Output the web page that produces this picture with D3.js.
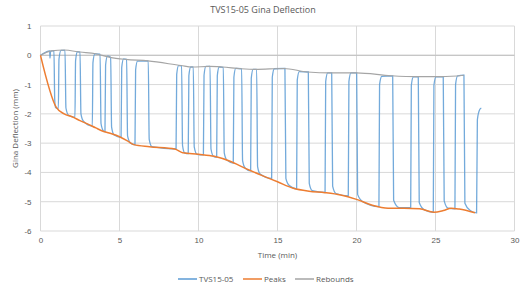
<!DOCTYPE html>
<html>
<head>
<meta charset="utf-8">
<script src="https://cdn.jsdelivr.net/npm/d3@7"></script>
<style>
  body { margin: 0; background: #fff; }
  svg { display: block; font-family: "Open Sans", "Liberation Sans", sans-serif; }
  .grid line { stroke: #d9d9d9; stroke-width: 1; }
  .tick text { fill: #595959; font-size: 8px; }
</style>
</head>
<body>
<div class="container"></div>
<script>
const WIDTH = 526;
const HEIGHT = 289;
const LEFT = 40.5, RIGHT = 514.5, TOP = 26, BOTTOM = 231;

// TVS15-05 measured deflection (min, mm)
var tvsTime = [0, 0.25, 0.5, 0.58, 0.6, 0.64, 0.85, 0.9, 0.95, 1.13,
  1.17, 1.3, 1.55, 1.61, 1.78, 2.18,
  2.22, 2.34, 2.5, 2.56, 2.72, 3.28,
  3.32, 3.44, 3.77, 3.83, 3.98, 4.08,
  4.12, 4.24, 4.44, 4.5, 4.66, 5.1,
  5.14, 5.26, 5.45, 5.51, 5.7, 5.98,
  6.02, 6.14, 6.82, 6.88, 7.05, 8.58,
  8.62, 8.74, 8.93, 8.99, 9.12, 9.35,
  9.39, 9.51, 9.67, 9.73, 9.9, 10.31,
  10.35, 10.47, 10.73, 10.79, 10.95, 11.15,
  11.19, 11.31, 11.57, 11.63, 11.8, 12.2,
  12.24, 12.36, 12.73, 12.79, 12.95, 13.3,
  13.34, 13.46, 13.68, 13.74, 13.9, 14.63,
  14.67, 14.8, 15.47, 15.53, 15.75, 16.21,
  16.25, 16.38, 16.95, 17.01, 17.2, 18.01,
  18.05, 18.18, 18.43, 18.49, 18.7, 19.48,
  19.52, 19.65, 20.01, 20.07, 20.4, 21.42,
  21.46, 21.6, 22.29, 22.35, 22.7, 23.43,
  23.47, 23.6, 23.91, 23.97, 24.3, 24.86,
  24.9, 25.03, 25.49, 25.55, 25.8, 26.23,
  26.27, 26.4, 26.8, 26.86, 27.2, 27.6,
  27.65, 27.8, 27.9];
var tvsMm = [0, 0.08, 0.14, 0.15, -0.1, 0.14, 0.16, -1.5, -1.78, -1.82,
  -0.13, 0.17, 0.17, -1.8, -2.05, -2.12,
  -0.18, 0.12, 0.11, -2.0, -2.25, -2.42,
  -0.25, 0.05, 0.04, -2.33, -2.58, -2.61,
  -0.33, -0.03, -0.07, -2.45, -2.72, -2.8,
  -0.42, -0.12, -0.14, -2.75, -3.0, -3.05,
  -0.5, -0.2, -0.19, -2.87, -3.12, -3.2,
  -0.65, -0.35, -0.36, -3.08, -3.33, -3.36,
  -0.7, -0.4, -0.4, -3.13, -3.38, -3.4,
  -0.68, -0.38, -0.38, -3.2, -3.45, -3.48,
  -0.7, -0.4, -0.41, -3.33, -3.58, -3.68,
  -0.75, -0.45, -0.46, -3.6, -3.85, -3.95,
  -0.78, -0.48, -0.48, -3.8, -4.05, -4.2,
  -0.75, -0.46, -0.45, -4.2, -4.45, -4.56,
  -0.85, -0.56, -0.57, -4.37, -4.62, -4.68,
  -0.9, -0.6, -0.6, -4.47, -4.72, -4.8,
  -0.9, -0.6, -0.6, -4.75, -5.0, -5.17,
  -1.0, -0.72, -0.7, -4.95, -5.2, -5.2,
  -1.03, -0.74, -0.73, -5.03, -5.28, -5.36,
  -1.03, -0.74, -0.73, -4.97, -5.22, -5.24,
  -1.0, -0.7, -0.68, -5.05, -5.3, -5.38,
  -2.2, -1.85, -1.8];

var peakTime = [0, 1.0, 1.5, 2.0, 2.5, 3.0, 3.5, 4.0, 4.5, 5.0, 5.5, 5.9, 6.9, 8.5, 9.0, 10.0,
  11.0, 12.0, 13.0, 14.0, 15.0, 16.0, 17.0, 18.0, 19.0, 20.0, 21.0, 22.0, 23.0, 24.0,
  24.9, 25.5, 26.0, 26.5, 27.5];
var peakMm = [0, -1.78, -2.0, -2.1, -2.23, -2.35, -2.48, -2.6, -2.68, -2.78, -2.92, -3.05, -3.12, -3.2, -3.33, -3.38,
  -3.45, -3.62, -3.87, -4.1, -4.32, -4.54, -4.64, -4.69, -4.77, -4.92, -5.12, -5.22, -5.22, -5.24,
  -5.36, -5.3, -5.22, -5.25, -5.38];

var reboundTime = [0, 0.7, 1.5, 2.5, 3.5, 4.4, 5.4, 6.8, 8.9, 9.6, 10.7, 11.5, 12.7, 13.6,
  15.4, 16.9, 18.4, 20.0, 22.2, 23.9, 25.4, 26.8];
var reboundMm = [0, 0.15, 0.18, 0.11, 0.05, -0.07, -0.14, -0.19, -0.35, -0.4, -0.38, -0.4, -0.46, -0.48,
  -0.45, -0.57, -0.6, -0.6, -0.7, -0.73, -0.73, -0.68];

var xTicks = [0, 5, 10, 15, 20, 25, 30];
var yTicks = [1, 0, -1, -2, -3, -4, -5, -6];

var seriesNames = ["TVS15-05", "Peaks", "Rebounds"];
var seriesColors = ["#5B9BD5", "#ED7D31", "#A5A5A5"];

var zip = function(a, b){
  return a.map(function(d, i){ return [d, b[i]]; });
};
var plain = function(d){ return String(d); };

var svg = d3.select('.container').append('svg')
  .attr('width', WIDTH)
  .attr('height', HEIGHT);

var x = d3.scaleLinear().domain([0, 30]).range([LEFT, RIGHT]);
var y = d3.scaleLinear().domain([-6, 1]).range([BOTTOM, TOP]);

// horizontal gridlines
svg.append('g').attr('class', 'grid')
  .selectAll('line').data(yTicks).enter().append('line')
  .attr('x1', LEFT).attr('x2', RIGHT)
  .attr('y1', function(d){ return y(d); })
  .attr('y2', function(d){ return y(d); });

// vertical gridlines
svg.append('g').attr('class', 'grid')
  .selectAll('line').data(xTicks).enter().append('line')
  .attr('y1', TOP).attr('y2', BOTTOM)
  .attr('x1', function(d){ return x(d); })
  .attr('x2', function(d){ return x(d); });

// x axis line at zero
svg.append('line')
  .attr('x1', LEFT).attr('x2', RIGHT)
  .attr('y1', y(0)).attr('y2', y(0))
  .attr('stroke', '#bfbfbf').attr('stroke-width', 1);

var xAxis = d3.axisBottom(x).tickValues(xTicks).tickFormat(plain).tickSize(0).tickPadding(6);
svg.append('g')
  .attr('transform', 'translate(0,' + BOTTOM + ')')
  .call(xAxis)
  .call(function(g){ g.select('.domain').remove(); });

var yAxis = d3.axisLeft(y).tickValues(yTicks).tickFormat(plain).tickSize(0).tickPadding(9);
svg.append('g')
  .attr('transform', 'translate(' + LEFT + ',0)')
  .call(yAxis)
  .call(function(g){ g.select('.domain').remove(); });

var line = d3.line()
  .x(function(d){ return x(d[0]); })
  .y(function(d){ return y(d[1]); })
  .curve(d3.curveMonotoneX);

var plot = svg.append('g');

plot.append('path')
  .attr('d', line(zip(tvsTime, tvsMm)))
  .attr('fill', 'none')
  .attr('stroke', seriesColors[0])
  .attr('stroke-opacity', 0.85)
  .attr('stroke-width', 1.3);

plot.append('path')
  .attr('d', line(zip(reboundTime, reboundMm)))
  .attr('fill', 'none')
  .attr('stroke', seriesColors[2])
  .attr('stroke-width', 1.1);

plot.append('path')
  .attr('d', line(zip(peakTime, peakMm)))
  .attr('fill', 'none')
  .attr('stroke', seriesColors[1])
  .attr('stroke-width', 1.5);

// titles
svg.append('text')
  .attr('x', 263).attr('y', 13)
  .attr('text-anchor', 'middle')
  .attr('fill', '#595959')
  .style('font-size', '9px')
  .text('TVS15-05 Gina Deflection');

svg.append('text')
  .attr('x', (LEFT + RIGHT) / 2).attr('y', 258)
  .attr('text-anchor', 'middle')
  .attr('fill', '#595959')
  .style('font-size', '8px')
  .text('Time (min)');

svg.append('text')
  .attr('transform', 'translate(18,' + ((TOP + BOTTOM) / 2) + ') rotate(-90)')
  .attr('text-anchor', 'middle')
  .attr('fill', '#595959')
  .style('font-size', '8px')
  .text('Gina Deflection (mm)');

// legend
var legendX = [178, 243, 295];
var legend = svg.append('g').selectAll('g')
  .data(seriesNames).enter().append('g')
  .attr('transform', function(d, i){ return 'translate(' + legendX[i] + ',279)'; });

legend.append('line')
  .attr('x1', 0).attr('x2', 19)
  .attr('y1', 0).attr('y2', 0)
  .attr('stroke', function(d, i){ return seriesColors[i]; })
  .attr('stroke-width', 1.5);

legend.append('text')
  .attr('x', 21).attr('y', 3)
  .attr('fill', '#595959')
  .style('font-size', '8px')
  .text(function(d){ return d; });
</script>
</body>
</html>
